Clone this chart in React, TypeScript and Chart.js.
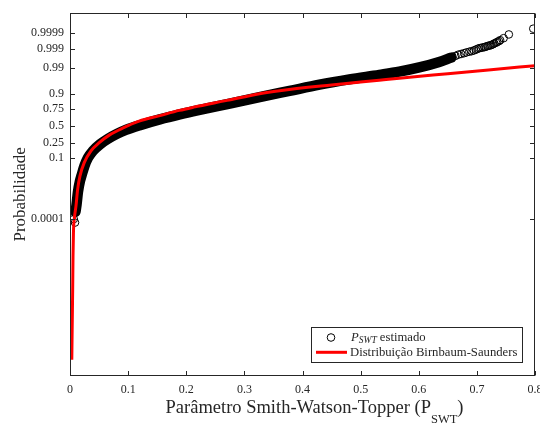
import React, { useEffect, useRef } from "react";
import { Chart, registerables } from "chart.js";

Chart.register(...registerables);

// ---------- data ----------
// x: P_SWT value; q: normal quantile of the plotting probability (axis is a normal-probability scale)
const xTickValues = [0, 0.1, 0.2, 0.3, 0.4, 0.5, 0.6, 0.7, 0.8];
const xTickLabels = ["0", "0.1", "0.2", "0.3", "0.4", "0.5", "0.6", "0.7", "0.8"];
const probTickValues = [0.0001, 0.1, 0.25, 0.5, 0.75, 0.9, 0.99, 0.999, 0.9999];
const probTickLabels = ["0.0001", "0.1", "0.25", "0.5", "0.75", "0.9", "0.99", "0.999", "0.9999"];
const quantileMin = -10;
const quantileMax = 4.54;

// dense part of the sample (centre of the black band)
const bandX = [0.0094, 0.0112, 0.0137, 0.0172, 0.0197, 0.0249, 0.0309, 0.0395, 0.0515, 0.0652, 0.0807, 0.0961, 0.1219, 0.1545, 0.1888, 0.2232, 0.2747, 0.3262, 0.3777, 0.4292, 0.4807, 0.5322, 0.5665, 0.6009, 0.6352, 0.6558];
const bandQ = [-3.43, -3.15, -2.63, -2.19, -1.99, -1.59, -1.27, -0.99, -0.73, -0.51, -0.31, -0.15, 0.05, 0.27, 0.47, 0.65, 0.9, 1.16, 1.41, 1.66, 1.87, 2.05, 2.18, 2.35, 2.57, 2.74];

// individual estimated points (lower tail + upper tail)
const sampleX = [0.0065, 0.0086, 0.658, 0.663, 0.668, 0.673, 0.678, 0.682, 0.687, 0.691, 0.695, 0.698, 0.701, 0.704, 0.707, 0.71, 0.713, 0.715, 0.718, 0.72, 0.723, 0.725, 0.728, 0.73, 0.733, 0.735, 0.738, 0.74, 0.746, 0.755, 0.797];
const sampleQ = [-3.72, -3.86, 2.78, 2.81, 2.86, 2.89, 2.92, 2.95, 2.98, 3.0, 3.03, 3.06, 3.09, 3.12, 3.13, 3.15, 3.16, 3.18, 3.2, 3.22, 3.23, 3.25, 3.28, 3.31, 3.34, 3.37, 3.4, 3.44, 3.52, 3.67, 3.9];

// fitted Birnbaum-Saunders distribution
const fitX = [0.0031, 0.0038, 0.0046, 0.0052, 0.006, 0.0075, 0.0103, 0.0132, 0.0172, 0.0245, 0.0361, 0.0503, 0.0675, 0.0905, 0.119, 0.153, 0.188, 0.213, 0.27, 0.326, 0.3605, 0.45, 0.532, 0.5665, 0.65, 0.72, 0.8];
const fitQ = [-9.35, -8.0, -6.55, -5.2, -4.2, -3.7, -3.19, -2.52, -1.99, -1.46, -0.99, -0.66, -0.36, -0.08, 0.2, 0.41, 0.63, 0.76, 1.03, 1.3, 1.42, 1.65, 1.84, 1.92, 2.1, 2.25, 2.42];

// ---------- helpers ----------
function normInv(p: number): number {
  const a = [-3.969683028665376e1, 2.209460984245205e2, -2.759285104469687e2, 1.38357751867269e2, -3.066479806614716e1, 2.506628277459239];
  const b = [-5.447609879822406e1, 1.615858368580409e2, -1.556989798598866e2, 6.680131188771972e1, -1.328068155288572e1];
  const c = [-7.784894002430293e-3, -3.223964580411365e-1, -2.400758277161838, -2.549671010229583, 4.374664141464968, 2.938163982698783];
  const d = [7.784695709041462e-3, 3.224671290700398e-1, 2.445134137142996, 3.754408661907416];
  const pl = 0.02425;
  if (p < pl) {
    const q = Math.sqrt(-2 * Math.log(p));
    return (((((c[0] * q + c[1]) * q + c[2]) * q + c[3]) * q + c[4]) * q + c[5]) / ((((d[0] * q + d[1]) * q + d[2]) * q + d[3]) * q + 1);
  }
  if (p <= 1 - pl) {
    const q = p - 0.5;
    const r = q * q;
    return ((((((a[0] * r + a[1]) * r + a[2]) * r + a[3]) * r + a[4]) * r + a[5]) * q) / (((((b[0] * r + b[1]) * r + b[2]) * r + b[3]) * r + b[4]) * r + 1);
  }
  const q = Math.sqrt(-2 * Math.log(1 - p));
  return -(((((c[0] * q + c[1]) * q + c[2]) * q + c[3]) * q + c[4]) * q + c[5]) / ((((d[0] * q + d[1]) * q + d[2]) * q + d[3]) * q + 1);
}

const pts = (xs: number[], ys: number[]) => xs.map((x, i) => ({ x, y: ys[i] }));

const SERIF = '"Liberation Serif", "Times New Roman", serif';
const AXIS_COLOR = "#262626";
const TICK_LEN = 4.5;

const decorPlugin = {
  id: "decor",
  afterDraw(chart: any) {
    const { ctx, chartArea: a, scales } = chart;
    const xs = scales.x;
    const ys = scales.y;
    ctx.save();
    // frame and inward ticks on all sides
    ctx.strokeStyle = AXIS_COLOR;
    ctx.lineWidth = 1;
    const L = Math.round(a.left) + 0.5;
    const R = Math.round(a.right) - 0.5;
    const T = Math.round(a.top) + 0.5;
    const B = Math.round(a.bottom) - 0.5;
    ctx.strokeRect(L, T, R - L, B - T);
    ctx.beginPath();
    xTickValues.forEach((v) => {
      const px = Math.round(xs.getPixelForValue(v)) + 0.5;
      ctx.moveTo(px, B);
      ctx.lineTo(px, B - TICK_LEN);
      ctx.moveTo(px, T);
      ctx.lineTo(px, T + TICK_LEN);
    });
    probTickValues.forEach((p) => {
      const py = Math.round(ys.getPixelForValue(normInv(p))) + 0.5;
      ctx.moveTo(L, py);
      ctx.lineTo(L + TICK_LEN, py);
      ctx.moveTo(R, py);
      ctx.lineTo(R - TICK_LEN, py);
    });
    ctx.stroke();

    // axis titles
    ctx.fillStyle = AXIS_COLOR;
    ctx.textBaseline = "alphabetic";
    ctx.textAlign = "left";
    const mainTxt = "Parâmetro Smith-Watson-Topper (P";
    const subTxt = "SWT";
    const endTxt = ")";
    const mainFont = `18.5px ${SERIF}`;
    const subFont = `12.5px ${SERIF}`;
    ctx.font = mainFont;
    const w1 = ctx.measureText(mainTxt).width;
    const w3 = ctx.measureText(endTxt).width;
    ctx.font = subFont;
    const w2 = ctx.measureText(subTxt).width;
    const total = w1 + w2 + w3;
    const cx = (a.left + a.right) / 2 + 12;
    const x0 = cx - total / 2;
    const base = a.bottom + 37;
    ctx.font = mainFont;
    ctx.fillText(mainTxt, x0, base);
    ctx.font = subFont;
    ctx.fillText(subTxt, x0 + w1, base + 9.5);
    ctx.font = mainFont;
    ctx.fillText(endTxt, x0 + w1 + w2, base);

    ctx.save();
    ctx.translate(25, (a.top + a.bottom) / 2);
    ctx.rotate(-Math.PI / 2);
    ctx.textAlign = "center";
    ctx.font = `17px ${SERIF}`;
    ctx.fillText("Probabilidade", 0, 0);
    ctx.restore();

    // legend
    const bx = a.right - 224;
    const by = a.bottom - 49;
    const bw = 211;
    const bh = 35;
    ctx.fillStyle = "#ffffff";
    ctx.fillRect(bx, by, bw, bh);
    ctx.strokeStyle = AXIS_COLOR;
    ctx.lineWidth = 1;
    ctx.strokeRect(Math.round(bx) + 0.5, Math.round(by) + 0.5, bw, bh);
    // row 1
    ctx.strokeStyle = "#000000";
    ctx.beginPath();
    ctx.arc(bx + 20, by + 10.5, 3.8, 0, Math.PI * 2);
    ctx.stroke();
    ctx.fillStyle = AXIS_COLOR;
    ctx.textAlign = "left";
    let tx = bx + 40;
    ctx.font = `italic 12.7px ${SERIF}`;
    ctx.fillText("P", tx, by + 13.5);
    tx += ctx.measureText("P").width;
    ctx.font = `italic 9.5px ${SERIF}`;
    ctx.fillText("SWT", tx, by + 15.5);
    tx += ctx.measureText("SWT").width;
    ctx.font = `12.7px ${SERIF}`;
    ctx.fillText(" estimado", tx, by + 13.5);
    // row 2
    ctx.strokeStyle = "#ff0000";
    ctx.lineWidth = 3;
    ctx.beginPath();
    ctx.moveTo(bx + 5, by + 25.3);
    ctx.lineTo(bx + 36, by + 25.3);
    ctx.stroke();
    ctx.font = `12.7px ${SERIF}`;
    ctx.fillText("Distribuição Birnbaum-Saunders", bx + 39, by + 29);
    ctx.restore();
  },
};

export default function App() {
  const ref = useRef<HTMLCanvasElement | null>(null);

  useEffect(() => {
    document.body.style.margin = "0";
    const canvas = ref.current;
    if (!canvas) return;
    const chart = new Chart(canvas, {
      type: "scatter",
      data: {
        datasets: [
          {
            label: "Distribuição Birnbaum-Saunders",
            data: pts(fitX, fitQ),
            showLine: true,
            borderColor: "#ff0000",
            borderWidth: 3,
            pointRadius: 0,
            cubicInterpolationMode: "monotone",
            order: 0,
          },
          {
            label: "P_SWT estimado",
            data: pts(sampleX, sampleQ).concat(pts(bandX, bandQ)),
            showLine: false,
            pointStyle: "circle",
            pointRadius: 3.8,
            pointBorderWidth: 1,
            borderColor: "#000000",
            backgroundColor: "rgba(0,0,0,0)",
            order: 1,
          },
          {
            label: "band",
            data: pts(bandX, bandQ),
            showLine: true,
            borderColor: "#000000",
            borderWidth: 10.5,
            borderCapStyle: "round",
            borderJoinStyle: "round",
            pointRadius: 0,
            cubicInterpolationMode: "monotone",
            order: 2,
          },
        ] as any,
      },
      options: {
        responsive: false,
        maintainAspectRatio: false,
        animation: false,
        layout: { padding: { left: 0, right: 4, top: 12.7, bottom: 0 } },
        plugins: { legend: { display: false }, tooltip: { enabled: false } },
        scales: {
          x: {
            type: "linear",
            min: 0,
            max: 0.8,
            grid: { display: false, drawTicks: false },
            border: { display: false },
            afterBuildTicks: (axis: any) => {
              axis.ticks = xTickValues.map((v) => ({ value: v }));
            },
            afterFit: (axis: any) => {
              axis.height = 48;
              axis.paddingLeft = 0;
              axis.paddingRight = 0;
            },
            ticks: {
              autoSkip: false,
              maxRotation: 0,
              padding: 7,
              color: AXIS_COLOR,
              font: { family: SERIF, size: 12 },
              callback: (_v: any, i: number) => xTickLabels[i],
            },
          },
          y: {
            type: "linear",
            min: quantileMin,
            max: quantileMax,
            grid: { display: false, drawTicks: false },
            border: { display: false },
            afterBuildTicks: (axis: any) => {
              axis.ticks = probTickValues.map((p) => ({ value: normInv(p) }));
            },
            afterFit: (axis: any) => {
              axis.width = 70;
              axis.paddingTop = 0;
              axis.paddingBottom = 0;
            },
            ticks: {
              autoSkip: false,
              padding: 6,
              color: AXIS_COLOR,
              font: { family: SERIF, size: 12 },
              callback: (_v: any, i: number) => probTickLabels[i],
            },
          },
        },
      } as any,
      plugins: [decorPlugin],
    });
    return () => chart.destroy();
  }, []);

  return (
    <div style={{ position: "absolute", left: 0, top: 0, width: 540, height: 424, background: "#fff" }}>
      <canvas ref={ref} width={540} height={424} />
    </div>
  );
}
